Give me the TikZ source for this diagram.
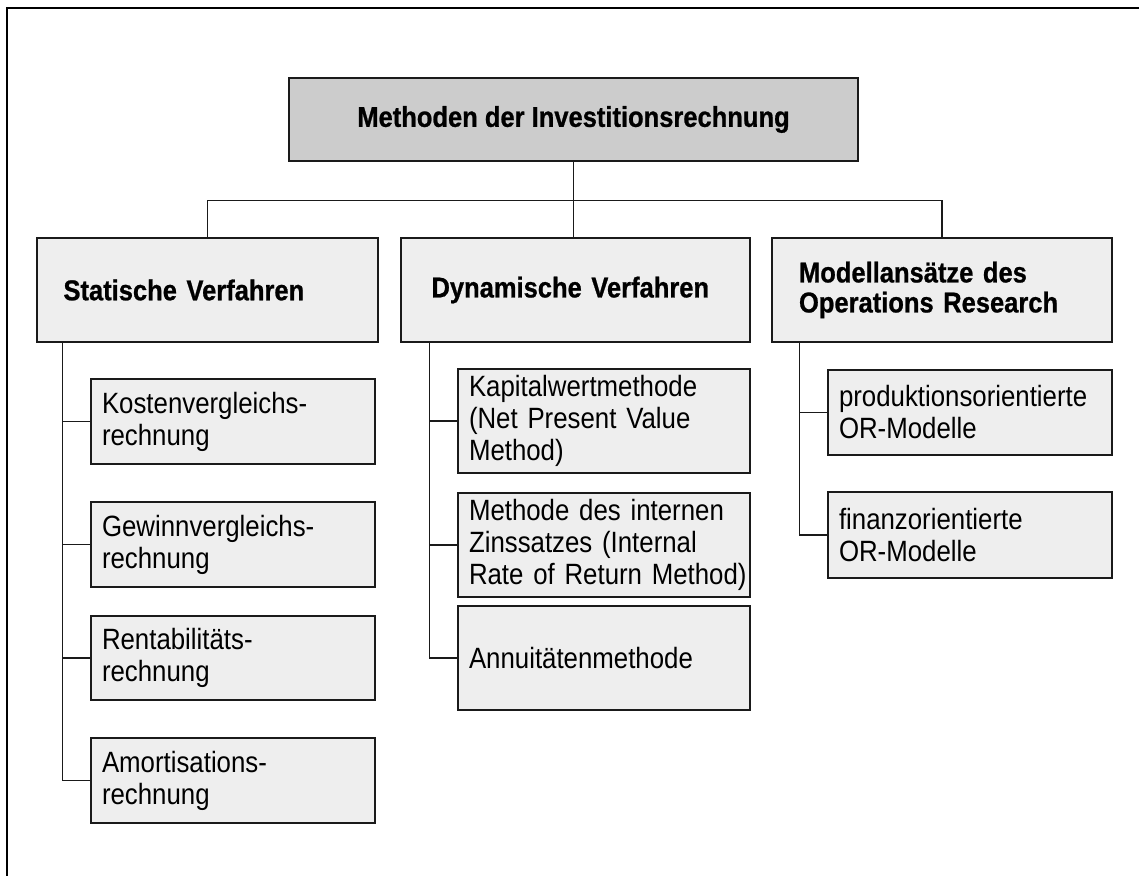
\documentclass[tikz,border=0pt]{standalone}
\usepackage{fontspec}
\setmainfont[FakeStretch=0.88]{Liberation Sans}
\newfontfamily\headfont[FakeStretch=0.89,FakeBold=0.8]{Liberation Sans}
\definecolor{topfill}{HTML}{CCCCCC}
\definecolor{boxfill}{HTML}{EEEEEE}
\definecolor{edge}{HTML}{1A1A1A}
\begin{document}
\begin{tikzpicture}[
  x=0.75pt, y=-0.75pt,
  box/.style={draw=edge, line width=0.8pt, inner xsep=0pt, inner ysep=0pt, align=left},
  rootbox/.style={box, fill=topfill, align=center,
    font=\headfont\bfseries\fontsize{21.5}{22.5}\selectfont},
  headbox/.style={box, fill=boxfill, minimum height=78pt,
    font=\headfont\bfseries\fontsize{21.5}{22.5}\selectfont},
  leafbox/.style={box, fill=boxfill, font=\fontsize{22}{24}\selectfont},
  link/.style={draw=edge, line width=0.8pt}
]
\useasboundingbox (0,0) rectangle (1139,876);

% page frame (top and left rules)
\draw[line width=1.5pt] (1139,8) -- (7,8) -- (7,876);

% root
\node[rootbox, minimum width=426.75pt, minimum height=62.25pt] (root) at (573.5,119.5)
  {Methoden der Investitionsrechnung};

% second level
\node[headbox, minimum width=255.75pt, text width=216pt] (stat) at (207.5,290)
  {Statische Verfahren};
\node[headbox, minimum width=261.75pt, text width=216pt] (dyn) at (575.5,290)
  {Dynamische Verfahren};
\node[headbox, minimum width=255pt, text width=214.5pt] (opres) at (942,290)
  {Modellans\"atze des\\Operations Research};

% static methods
\node[leafbox, minimum width=213pt, minimum height=63.75pt, text width=196.5pt] (kost) at (233,421.5)
  {Kostenvergleichs-\\rechnung};
\node[leafbox, minimum width=213pt, minimum height=63.75pt, text width=196.5pt] (gew) at (233,544.5)
  {Gewinnvergleichs-\\rechnung};
\node[leafbox, minimum width=213pt, minimum height=63pt, text width=196.5pt] (rent) at (233,658)
  {Rentabilit\"ats-\\rechnung};
\node[leafbox, minimum width=213pt, minimum height=63.75pt, text width=196.5pt] (amort) at (233,780.5)
  {Amortisations-\\rechnung};

% dynamic methods (long lines kept whole with \mbox)
\node[leafbox, minimum width=219pt, minimum height=78pt, text width=202.5pt] (kap) at (604,421)
  {Kapitalwertmethode\\\mbox{(Net Present Value}\\Method)};
\node[leafbox, minimum width=219pt, minimum height=78pt, text width=202.5pt] (irr) at (604,545)
  {\mbox{Methode des internen}\\\mbox{Zinssatzes (Internal}\\\mbox{Rate of Return Method)}};
\node[leafbox, minimum width=219pt, minimum height=78pt, text width=202.5pt] (ann) at (604,658)
  {Annuit\"atenmethode};

% operations research models
\node[leafbox, minimum width=213pt, minimum height=63.75pt, text width=196.5pt] (prod) at (970,412.5)
  {\mbox{produktionsorientierte}\\OR-Modelle};
\node[leafbox, minimum width=213pt, minimum height=64.5pt, text width=196.5pt] (fin) at (970,535)
  {finanzorientierte\\OR-Modelle};

% root to second level
\draw[link] (root.south) -- ++(0,39) coordinate (bus);
\draw[link] (bus) -| (stat.north);
\draw[link] (bus) -| (opres.north);
\draw[link] (root.south) -- (root.south |- dyn.north);

% second level to leaves
\foreach \leaf in {kost,gew,rent,amort}
  \draw[link] (stat.south west) ++(26,0) |- (\leaf.west);
\foreach \leaf in {kap,irr,ann}
  \draw[link] (dyn.south west) ++(29,0) |- (\leaf.west);
\foreach \leaf in {prod,fin}
  \draw[link] (opres.south west) ++(28,0) |- (\leaf.west);
\end{tikzpicture}
\end{document}
